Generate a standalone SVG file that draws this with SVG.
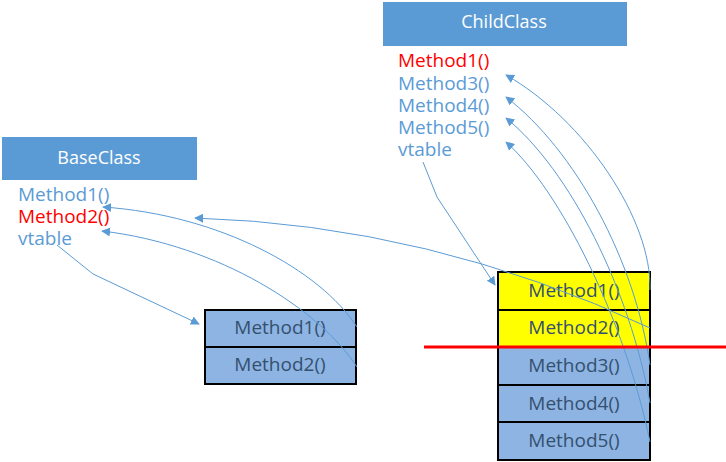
<svg xmlns="http://www.w3.org/2000/svg" width="726" height="462" viewBox="0 0 726 462">
<defs>
<marker id="ah" viewBox="0 0 10 10" refX="9" refY="5" markerWidth="9" markerHeight="9" markerUnits="userSpaceOnUse" orient="auto">
<path d="M0,0 L10,5 L0,10 z" fill="#5B9BD5"/>
</marker>
<style>
.hdr{fill:#5B9BD5}
.htxt{fill:#fff;font-family:"Open Sans","Noto Sans",sans-serif;font-size:18px;text-anchor:middle}
.lst{font-family:"Open Sans","Noto Sans",sans-serif;font-size:19px;fill:#5B9BD5}
.red{fill:#FF0000}
.cell{stroke:#000;stroke-width:2}
.blue{fill:#8EB4E3}
.yel{fill:#FFFF00}
.ctxt{font-family:"Open Sans","Noto Sans",sans-serif;font-size:19px;fill:#34506F;text-anchor:middle}
.con{fill:none;stroke:#5B9BD5;stroke-width:1;marker-end:url(#ah)}
</style>
</defs>
<rect width="726" height="462" fill="#fff"/>
<g id="baseclass">
<rect class="hdr" x="2" y="137" width="195" height="43"/>
<text class="htxt" x="99" y="164">BaseClass</text>
<text class="lst" x="18" y="201">Method1()</text>
<text class="lst red" x="18" y="223">Method2()</text>
<text class="lst" x="18" y="245">vtable</text>
</g>
<g id="childclass">
<rect class="hdr" x="383" y="2" width="244" height="44"/>
<text class="htxt" x="504" y="28">ChildClass</text>
<text class="lst red" x="398" y="67">Method1()</text>
<text class="lst" x="398" y="90">Method3()</text>
<text class="lst" x="398" y="112">Method4()</text>
<text class="lst" x="398" y="134">Method5()</text>
<text class="lst" x="398" y="156">vtable</text>
</g>
<g id="base-vtable">
<rect class="cell blue" x="205" y="310" width="151" height="37"/>
<rect class="cell blue" x="205" y="347" width="151" height="37"/>
<text class="ctxt" x="280" y="334">Method1()</text>
<text class="ctxt" x="280" y="371">Method2()</text>
</g>
<g id="child-vtable">
<rect class="cell yel" x="498" y="272" width="152" height="38"/>
<rect class="cell yel" x="498" y="310" width="152" height="37"/>
<rect class="cell blue" x="498" y="347" width="152" height="38"/>
<rect class="cell blue" x="498" y="385" width="152" height="37"/>
<rect class="cell blue" x="498" y="422" width="152" height="38"/>
<text class="ctxt" x="574" y="297">Method1()</text>
<text class="ctxt" x="574" y="334">Method2()</text>
<text class="ctxt" x="574" y="372">Method3()</text>
<text class="ctxt" x="574" y="410">Method4()</text>
<text class="ctxt" x="574" y="447">Method5()</text>
</g>
<g id="connectors">
<polyline class="con" points="57,245 93,274 199,324"/>
<polyline class="con" points="423,162 437,197 495,285"/>
<path class="con" d="M357,327 C320,270 220,215 103,207"/>
<path class="con" d="M357,367 C320,310 220,245 102,231"/>
<path class="con" d="M650,328 Q430,225 195,218"/>
<path class="con" d="M650,290 C652,220 585,120 506,75"/>
<path class="con" d="M650,365 C635,260 575,150 506,97"/>
<path class="con" d="M650,403 C630,290 570,170 506,118"/>
<path class="con" d="M650,442 C625,320 560,190 506,142"/>
</g>
<line x1="424" y1="347" x2="726" y2="347" stroke="#FF0000" stroke-width="3"/>
</svg>
